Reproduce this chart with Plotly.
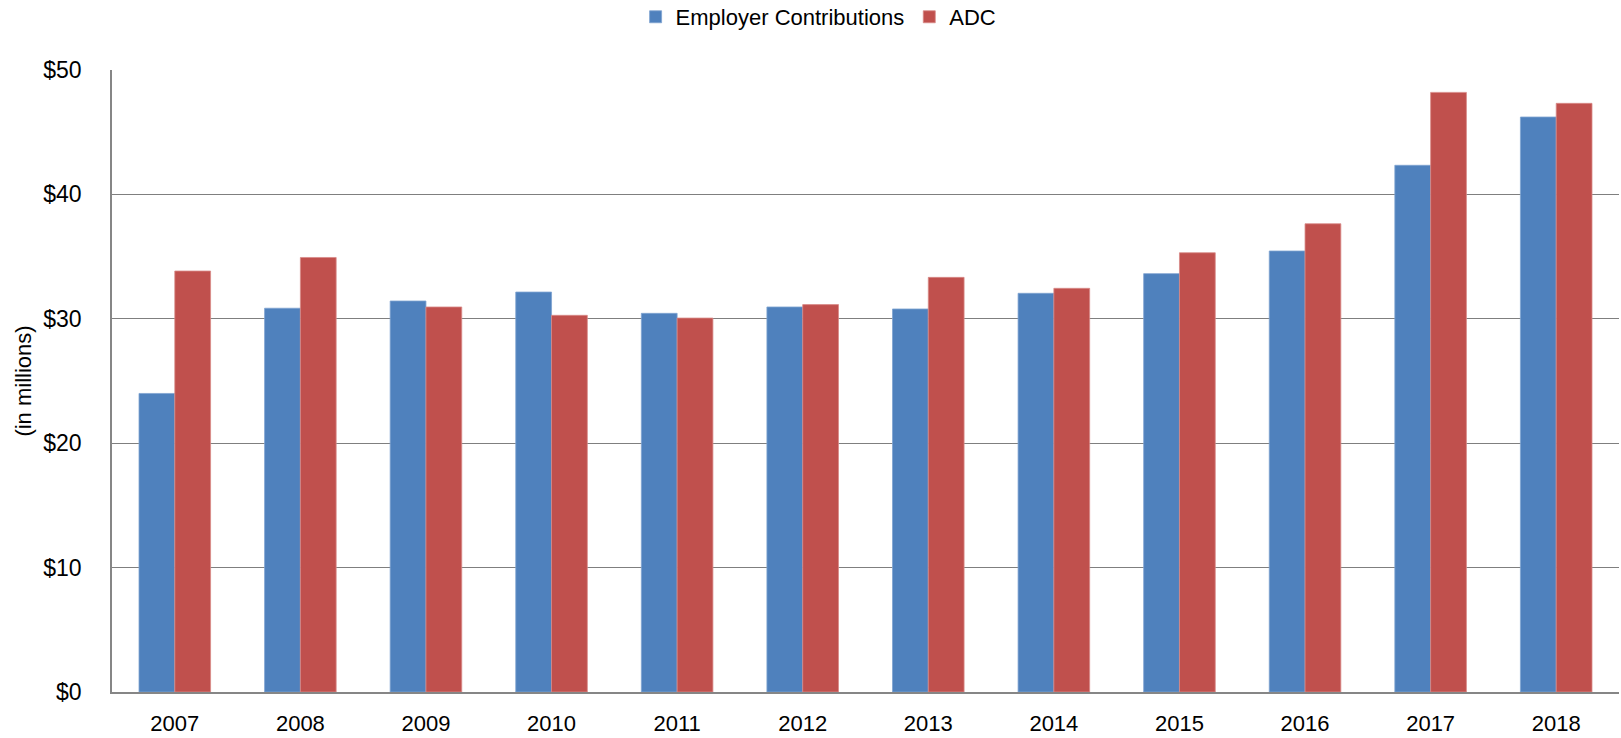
import plotly.graph_objects as go

years = ["2007", "2008", "2009", "2010", "2011", "2012", "2013", "2014", "2015", "2016", "2017", "2018"]
employer_contributions = [24.0, 30.85, 31.43, 32.15, 30.44, 30.95, 30.79, 32.05, 33.63, 35.45, 42.34, 46.22]
adc = [33.84, 34.93, 30.95, 30.28, 30.06, 31.14, 33.33, 32.45, 35.31, 37.64, 48.2, 47.32]

FONT = "Liberation Sans"

fig = go.Figure()
fig.add_trace(go.Bar(x=years, y=employer_contributions, name="Employer Contributions",
                     marker=dict(color="#4F81BD", line=dict(color="#7FA3D1", width=0.8))))
fig.add_trace(go.Bar(x=years, y=adc, name="ADC",
                     marker=dict(color="#C0504D", line=dict(color="#D88A88", width=0.8))))

fig.update_layout(
    width=1621, height=738,
    margin=dict(l=112, r=2, t=70, b=46),
    paper_bgcolor="white", plot_bgcolor="white",
    barmode="group", bargap=0.43, bargroupgap=0,
    font=dict(family=FONT, size=22, color="#000000"),
    showlegend=True,
    legend=dict(orientation="h", xref="container", yref="container",
                x=0.505, xanchor="center", y=0.977, yanchor="middle",
                font=dict(family=FONT, size=22), itemwidth=30,
                bgcolor="rgba(0,0,0,0)"),
)
fig.update_xaxes(
    showline=True, linecolor="#868686", linewidth=1.5,
    showgrid=False, ticks="", tickfont=dict(family=FONT, size=22),
    ticklabelstandoff=11, automargin=False,
)
fig.update_yaxes(
    range=[0, 50], dtick=10, tickprefix="$",
    showline=True, linecolor="#868686", linewidth=1.5,
    showgrid=True, gridcolor="#7F7F7F", gridwidth=1.4,
    zeroline=False, ticks="", tickfont=dict(family=FONT, size=23),
    ticklabelstandoff=24, automargin=False,
    title=dict(text="(in millions)", font=dict(family=FONT, size=22), standoff=6),
)

fig.write_html("out.html")
